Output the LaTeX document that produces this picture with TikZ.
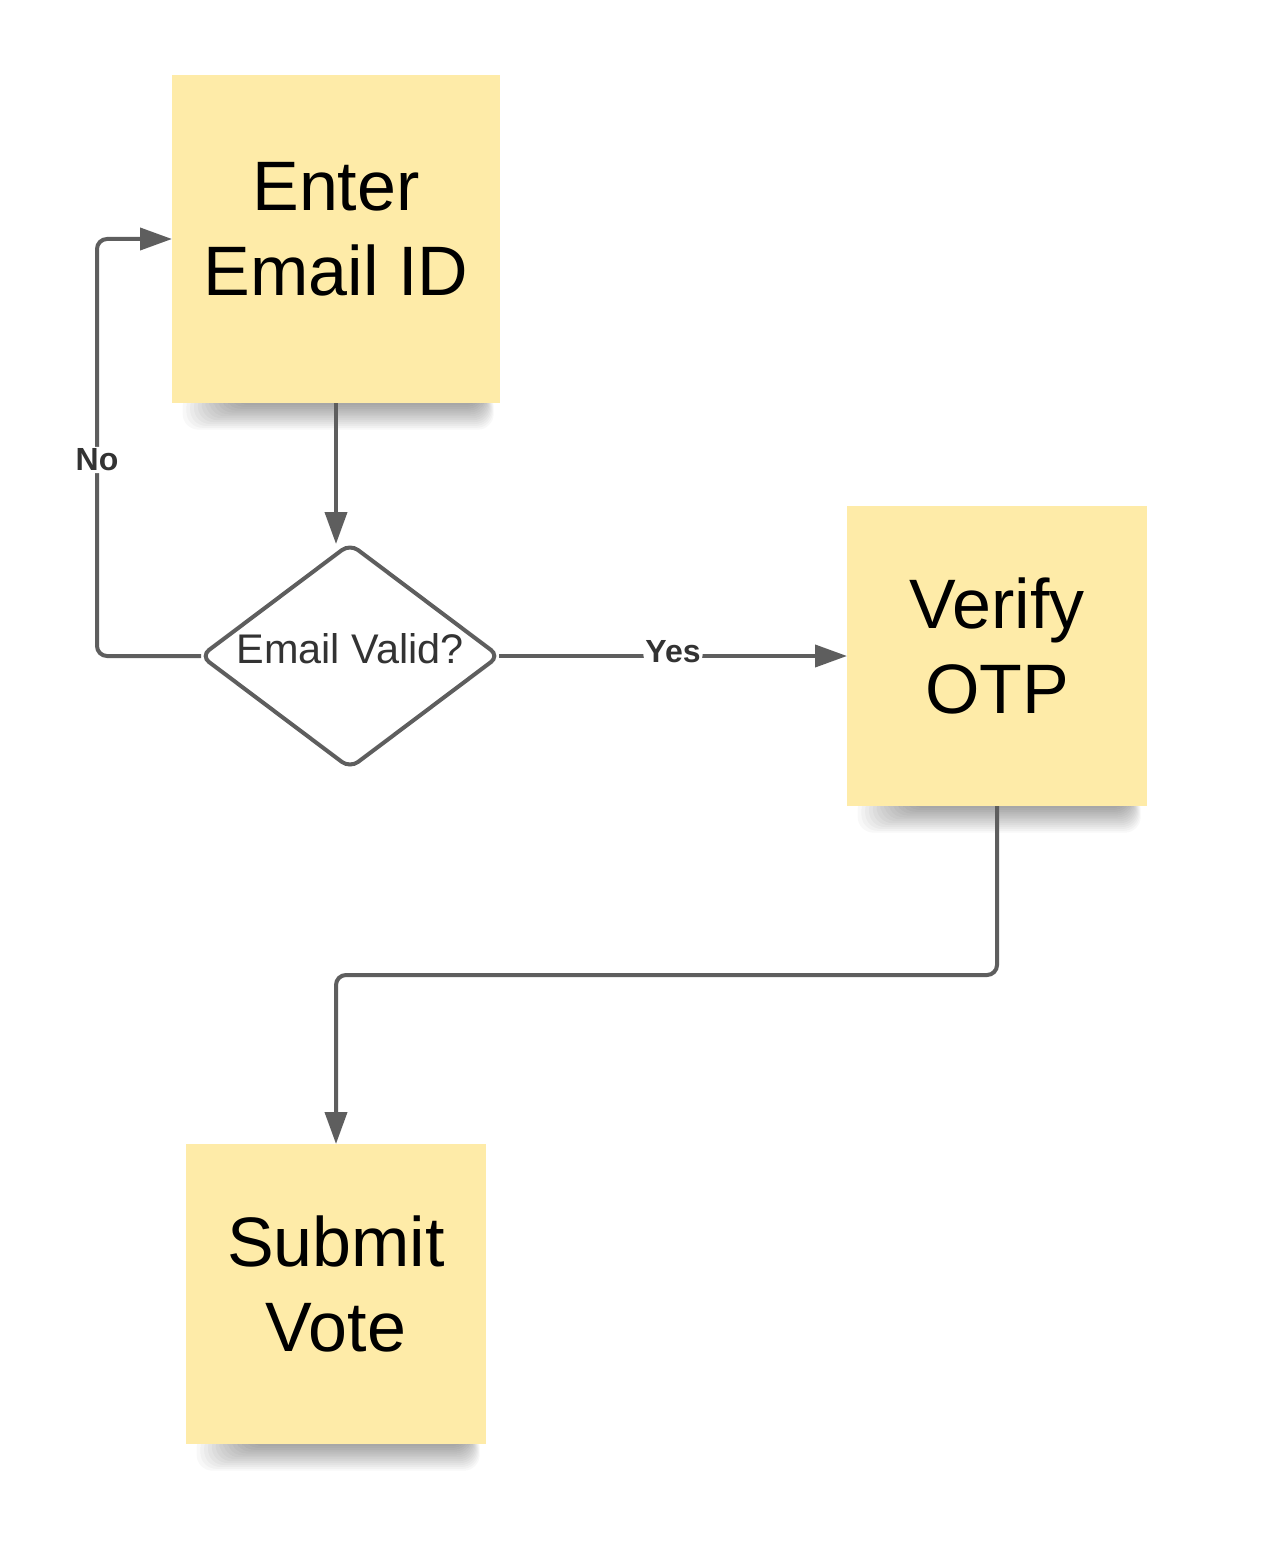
\documentclass[tikz,border=0pt]{standalone}
\usepackage{fontspec}
\setmainfont{Liberation Sans}
\usetikzlibrary{arrows.meta,shapes.geometric,backgrounds}
\definecolor{note}{RGB}{254,235,168}
\definecolor{conn}{RGB}{94,94,94}
\definecolor{lbl}{RGB}{51,51,51}
\tikzset{
  notebox/.style={fill=note, minimum width=#1, minimum height=#1, inner sep=0pt, outer sep=0pt},
  bigtext/.style={font=\fontsize{35pt}{42.5pt}\selectfont, align=center, inner sep=0pt, text=black},
  decision/.style={diamond, draw=conn, line width=2pt, fill=white, minimum width=149pt, minimum height=112pt, inner sep=0pt, outer sep=0pt, rounded corners=5pt},
  dectext/.style={font=\fontsize{20.7pt}{24pt}\selectfont, inner sep=0pt, text=lbl},
  connector/.style={draw=conn, line width=2pt, rounded corners=5pt},
  arrowc/.style={connector, -{Triangle[length=16pt,width=11pt]}},
  edgelbl/.style={font=\fontsize{16pt}{19pt}\selectfont\bfseries, text=lbl, fill=white, inner sep=1pt},
}
\newcommand\notesh[1]{%
  \foreach \i in {0,...,13}{%
    \fill[black, opacity=0.028, rounded corners=8pt]
      ([xshift={(30-1.9*\i)*1pt}, yshift=6pt]#1.south west) rectangle
      ([xshift={(-9+0.45*\i)*1pt}, yshift={(-1-0.95*\i)*1pt}]#1.south east);
  }%
}
\begin{document}
\begin{tikzpicture}[x=0.5pt, y=-0.5pt]
  \useasboundingbox (0,0) rectangle (1260,1556);

  % notes
  \node[notebox=164pt] (enter) at (336,239) {};
  \node[notebox=150pt] (verify) at (997,656) {};
  \node[notebox=150pt] (submit) at (336,1294) {};

  \node[bigtext] (enterT) at ([yshift=5pt]enter.center) {Enter\\Email ID};
  \node[bigtext] (verifyT) at ([yshift=5pt]verify.center) {Verify\\OTP};
  \node[bigtext] (submitT) at ([yshift=5pt]submit.center) {Submit\\Vote};

  % decision
  \node[decision] (dia) at (350,656) {};
  \node[dectext] (diaT) at ([yshift=3.5pt]dia.center) {Email Valid?};

  % connectors
  \draw[arrowc] (enter.south) -- (enter.south |- dia.north);
  \draw[arrowc] (dia.west) -- (97,656) -- node[edgelbl, pos=0.47] (no) {No} (97,239) -- (enter.west |- 97,239);
  \draw[arrowc] (dia.east) -- node[edgelbl, yshift=2pt] (yes) {Yes} (verify.west);
  \coordinate (bend) at (997,975);
  \draw[arrowc] (verify.south) -- (bend) -- (submit.north |- bend) -- (submit.north);

  \begin{pgfonlayer}{background}
    \fill[white] (0,0) rectangle (1260,1556);
    \notesh{enter}
    \notesh{verify}
    \notesh{submit}
  \end{pgfonlayer}
\end{tikzpicture}
\end{document}
